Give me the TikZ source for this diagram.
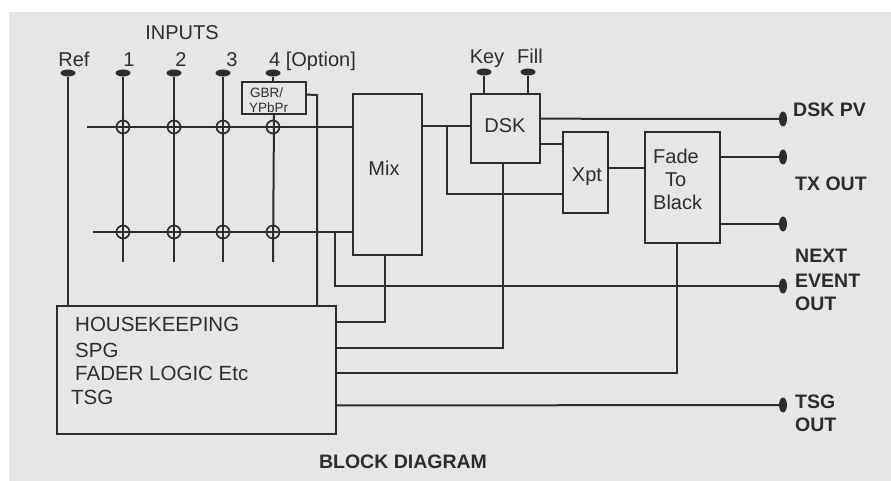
\documentclass[tikz,border=0pt]{standalone}
\usepackage{fontspec}
\setmainfont{Liberation Sans}
\usetikzlibrary{shapes.geometric,calc}
\definecolor{bg}{RGB}{230,231,228}
\definecolor{ink}{RGB}{45,45,45}
\begin{document}
\begin{tikzpicture}[x=1pt,y=-1pt,
  box/.style={draw=ink, inner sep=0pt, line width=2pt},
  tin/.style={ellipse, fill=ink, minimum width=15pt, minimum height=7pt, inner sep=0pt},
  tout/.style={ellipse, fill=ink, minimum width=8pt, minimum height=15pt, inner sep=0pt},
  lbl/.style={font=\fontsize{20}{24}\selectfont, text=ink, inner sep=0pt},
  blbl/.style={font=\fontsize{19.5}{23}\selectfont\bfseries, text=ink, inner sep=0pt},
  small/.style={font=\fontsize{13.5}{16}\selectfont, text=ink, inner sep=0pt},
  junc/.style={circle, draw=ink, minimum size=13pt, inner sep=0pt, line width=1.7pt},
  wire/.style={draw=ink, line width=2pt}]
\useasboundingbox (0,0) rectangle (891,481);
\fill[white] (0,0) rectangle (891,481);
\fill[bg] (9,12) rectangle (891,481);

% ---- labels ----
\node[lbl, anchor=base] (inputs) at (182,40) {INPUTS};
\node[lbl, anchor=base] (lref) at (74,67) {Ref};
\node[lbl, anchor=base] (l1) at (129,67) {1};
\node[lbl, anchor=base] (l2) at (181,67) {2};
\node[lbl, anchor=base] (l3) at (232,67) {3};
\node[lbl, anchor=base west] (l4) at (269,67) {4 [Option]};
\node[lbl, anchor=base] (lkey) at (487,64) {Key};
\node[lbl, anchor=base] (lfill) at (530,64) {Fill};

% ---- terminals ----
\node[tin] (tref) at (68,73) {};
\node[tin] (t1) at (123,73) {};
\node[tin] (t2) at (174,73) {};
\node[tin] (t3) at (223,73) {};
\node[tin] (t4) at (273,73) {};
\node[tin] (tkey) at (484,72) {};
\node[tin] (tfill) at (528,72) {};
\node[tout] (tpv) at (783,119) {};
\node[tout] (ttx1) at (783,157) {};
\node[tout] (ttx2) at (783,224) {};
\node[tout] (tnext) at (783,286) {};
\node[tout] (ttsg) at (783,405) {};

% ---- output labels ----
\node[blbl, anchor=base west] (lpv) at (793,117) {DSK PV};
\node[blbl, anchor=base west] (ltx) at (795,190) {TX OUT};
\node[blbl, anchor=base west] (ln1) at (795,262) {NEXT};
\node[blbl, anchor=base west] (ln2) at (795,287) {EVENT};
\node[blbl, anchor=base west] (ln3) at (795,310) {OUT};
\node[blbl, anchor=base west] (lt1) at (795,408) {TSG};
\node[blbl, anchor=base west] (lt2) at (795,431) {OUT};
\node[blbl, anchor=base] (title) at (403,468) {BLOCK DIAGRAM};

% ---- boxes ----
\node[small, anchor=base west] (gbrt1) at (250,98) {GBR/};
\node[small, anchor=base west] (gbrt2) at (249,113) {YPbPr};
\node[box, minimum width=64pt, minimum height=32pt] (gbr) at (274,98) {};
\node[box, minimum width=69pt, minimum height=161pt] (mix) at (387.5,174.5) {};
\node[box, minimum width=69pt, minimum height=69pt] (dsk) at (505.5,128.5) {};
\node[box, minimum width=45pt, minimum height=81pt] (xpt) at (585.5,172.5) {};
\node[box, minimum width=75pt, minimum height=111pt] (ftb) at (682.5,187.5) {};
\node[box, minimum width=279pt, minimum height=128pt] (hk) at (196.5,370) {};

\node[lbl, anchor=base] (mixt) at (384,176) {Mix};
\node[lbl, anchor=base] (dskt) at (505,133) {DSK};
\node[lbl, anchor=base] (xptt) at (587,182) {Xpt};
\node[lbl, anchor=base west] (ftbt1) at (653,164) {Fade};
\node[lbl, anchor=base west] (ftbt2) at (665,187) {To};
\node[lbl, anchor=base west] (ftbt3) at (653,210) {Black};
\node[lbl, anchor=base west, font=\fontsize{20.5}{24}\selectfont] (hkt1) at (75,331) {HOUSEKEEPING};
\node[lbl, anchor=base west, font=\fontsize{20.5}{24}\selectfont] (hkt2) at (75,357) {SPG};
\node[lbl, anchor=base west, font=\fontsize{20.5}{24}\selectfont] (hkt3) at (75,380) {FADER LOGIC Etc};
\node[lbl, anchor=base west, font=\fontsize{20.5}{24}\selectfont] (hkt4) at (71,404) {TSG};

% ---- coordinates ----
\coordinate (e1) at (123,262);
\coordinate (e2) at (174,262);
\coordinate (e3) at (223,262);
\coordinate (e4) at (273,262);
\coordinate (bu) at (87,127);
\coordinate (bl) at (93,232);
\coordinate (bb) at (335,232);
\coordinate (gbrout) at ($(gbr.north east)!0.4!(gbr.south east)$);
\coordinate (gbrx) at (317,95);
\coordinate (dskin) at ($(dsk.north west)!0.464!(dsk.south west)$);
\coordinate (br) at (447,126);
\coordinate (xin2) at ($(xpt.north west)!0.765!(xpt.south west)$);
\coordinate (dskpv) at ($(dsk.north east)!0.362!(dsk.south east)$);
\coordinate (dskx) at ($(dsk.north east)!0.725!(dsk.south east)$);
\coordinate (xout) at ($(xpt.north east)!0.444!(xpt.south east)$);
\coordinate (ftbb) at ($(ftb.south west)!0.427!(ftb.south east)$);
\coordinate (mixb) at ($(mix.south west)!0.46!(mix.south east)$);
\coordinate (dskb) at ($(dsk.south west)!0.46!(dsk.south east)$);
\coordinate (hk1) at ($(hk.north east)!0.133!(hk.south east)$);
\coordinate (hk2) at ($(hk.north east)!0.328!(hk.south east)$);
\coordinate (hk3) at ($(hk.north east)!0.523!(hk.south east)$);
\coordinate (hk4) at ($(hk.north east)!0.773!(hk.south east)$);

% ---- wires ----
\draw[wire] (tref) -- (tref |- hk.north);
\draw[wire] (t1) -- (e1);
\draw[wire] (t2) -- (e2);
\draw[wire] (t3) -- (e3);
\draw[wire] (t4) -- (t4 |- gbr.north);
\draw[wire] (gbr.south) -- (e4);
\draw[wire] (bu) -- (bu -| mix.west);
\draw[wire] (bl) -- (bl -| mix.west);
\draw[wire] (gbrout) -- (gbrx) -- (gbrx |- hk.north);
\draw[wire] (bb) |- (tnext);
\draw[wire] (dskin -| mix.east) -- (dskin);
\draw[wire] (br) |- (xin2);
\draw[wire] (dskpv) -- (tpv);
\draw[wire] (dskx) -- (dskx -| xpt.west);
\draw[wire] (xout) -- (xout -| ftb.west);
\draw[wire] (ttx1 -| ftb.east) -- (ttx1);
\draw[wire] (ttx2 -| ftb.east) -- (ttx2);
\draw[wire] (mixb) |- (hk1);
\draw[wire] (dskb) |- (hk2);
\draw[wire] (ftbb) |- (hk3);
\draw[wire] (hk4) -- (ttsg);
\draw[wire] (tkey) -- (tkey |- dsk.north);
\draw[wire] (tfill) -- (tfill |- dsk.north);

% ---- junction rings ----
\foreach \x [count=\i] in {123,174,223,273} {
  \node[junc] (ju\i) at (\x,127) {};
  \node[junc] (jl\i) at (\x,232) {};
}
\end{tikzpicture}
\end{document}
